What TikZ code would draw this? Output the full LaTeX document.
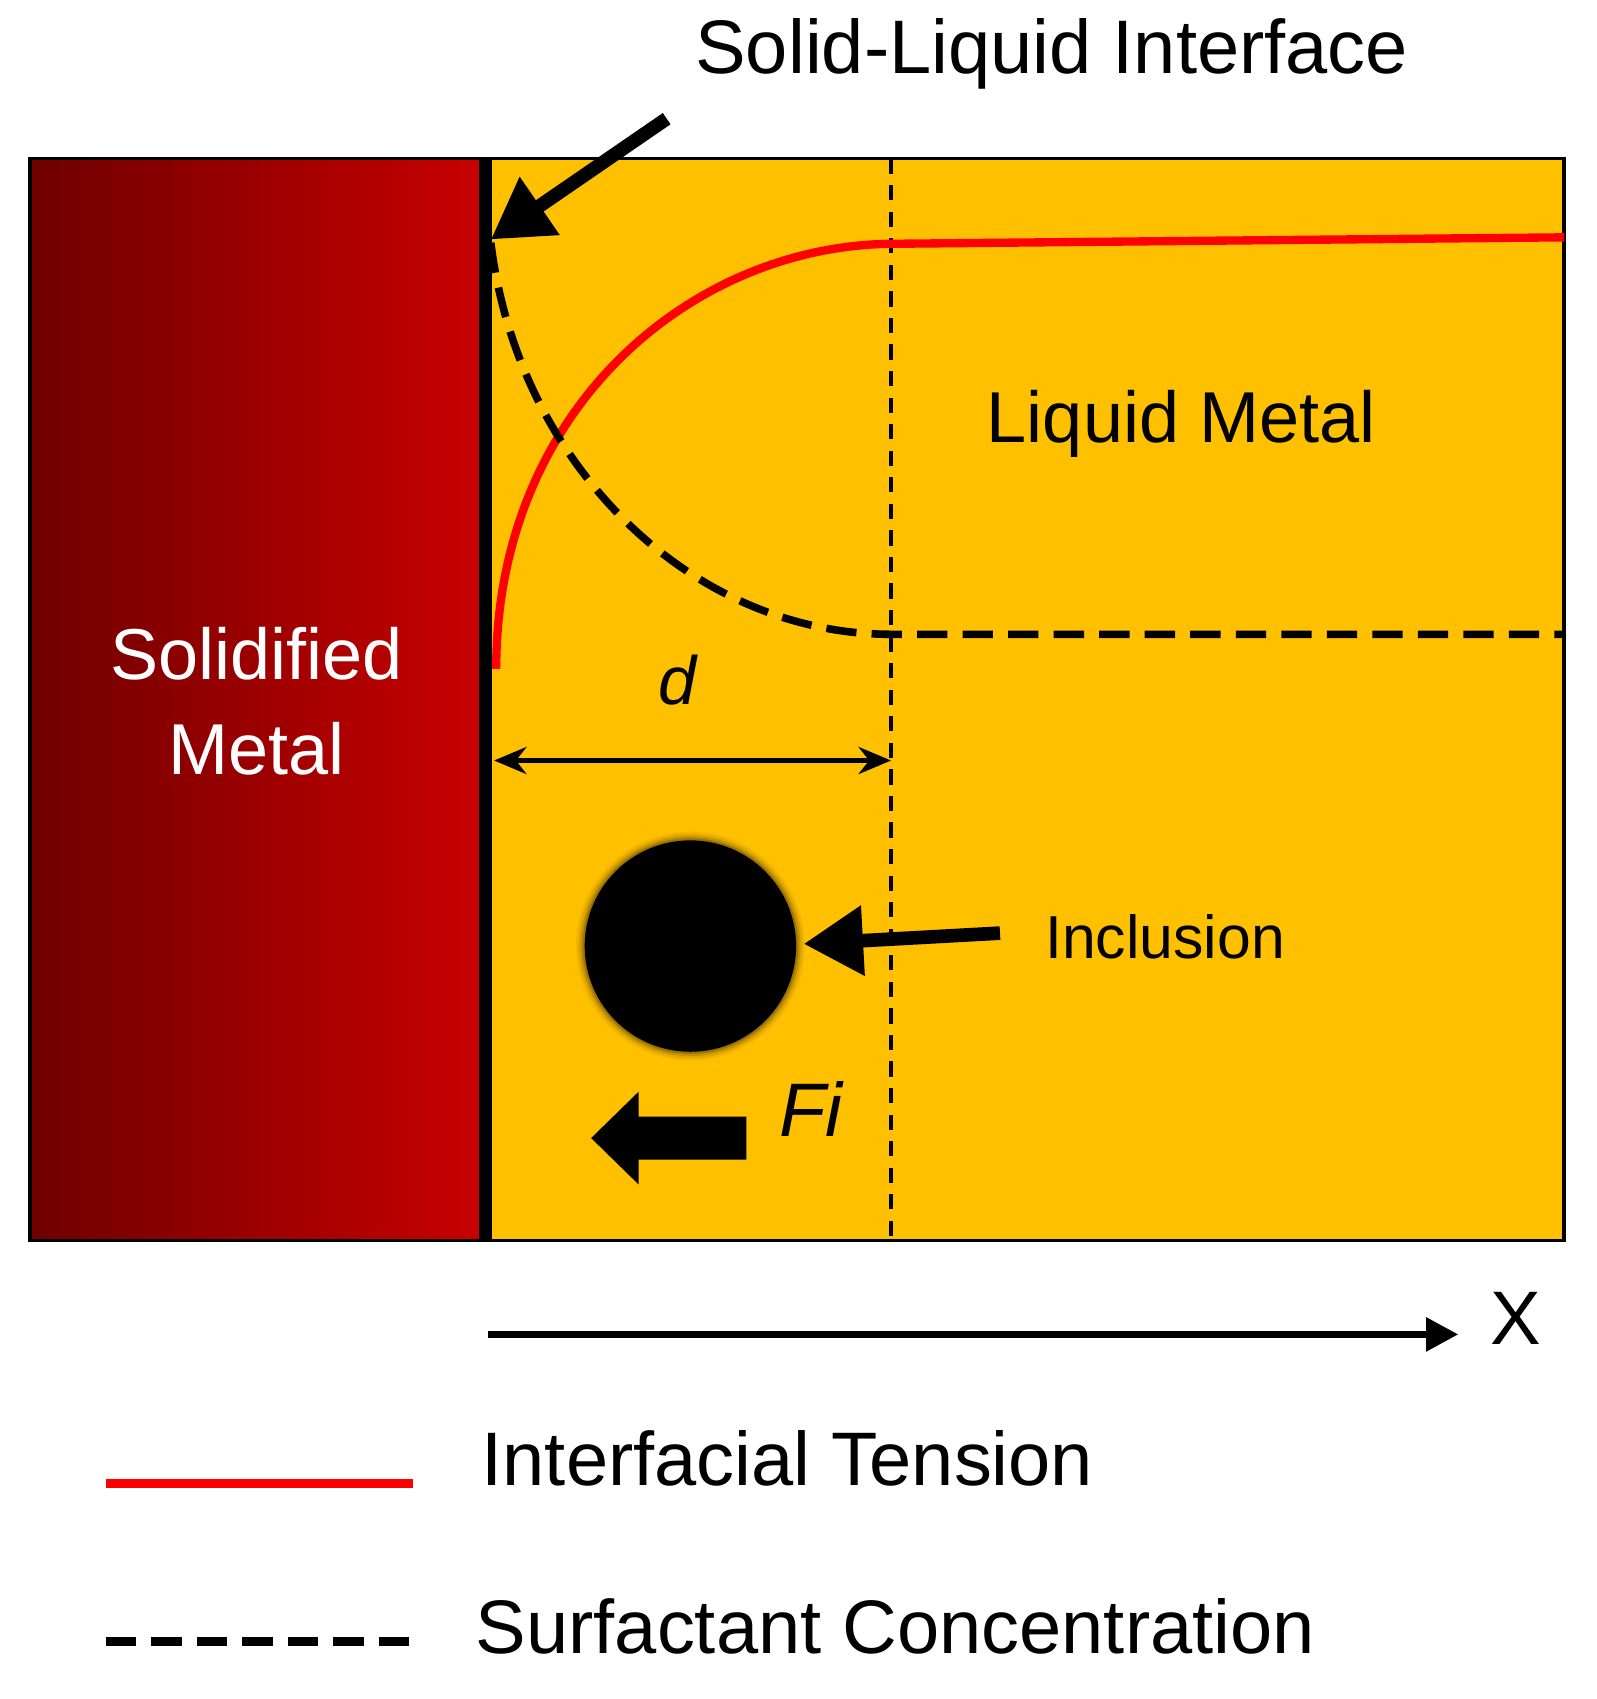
\documentclass[tikz,border=0pt]{standalone}
\usepackage{fontspec}
\setmainfont{Liberation Sans}
\usetikzlibrary{arrows.meta}
\definecolor{gold}{HTML}{FFC000}
\definecolor{dred}{HTML}{6E0000}
\definecolor{lred}{HTML}{C80000}
\begin{document}
\begin{tikzpicture}[x=0.01cm,y=-0.01cm,
  lbl/.style={font=\fontsize{20}{24}\selectfont},
  bigarrow/.style={line width=3.6pt,-{Triangle[length=0.55cm,width=0.62cm]}},
  mydash/.style={line width=2pt,dash pattern=on 8pt off 4pt}]
\useasboundingbox (0,0) rectangle (1480,1575);
% regions
\shade[left color=dred,right color=lred] (28,147) rectangle (445,1150);
\fill[gold] (445,147) rectangle (1450,1150);
\draw[line width=1pt] (28,147) rectangle (1450,1150);
\draw[line width=3.5pt] (450,147) -- (450,1150);
\coordinate (dtop) at (826,147); \coordinate (dbot) at (826,1150);
\draw[line width=1.2pt,dash pattern=on 4pt off 3pt] (dtop) -- (dbot);
% curves
\draw[red,line width=2.2pt] (460,620) .. controls (460,380) and (640,228) .. (826,226) -- (1450,220);
\draw[mydash] (455,225) .. controls (480,430) and (640,588) .. (826,588) -- (1450,588);
% texts
\node[lbl] (sli) at (975,50) {Solid-Liquid Interface};
\coordinate (slis) at (618,110); \coordinate (slie) at (455,222);
\draw[bigarrow] (slis) -- (slie);
\node[lbl,font=\fontsize{19}{23}\selectfont] (lm) at (1095,393) {Liquid Metal};
\node[lbl,font=\fontsize{19}{25}\selectfont,white,align=center] (sm) at (238,650) {Solidified\\Metal};
\node[font=\fontsize{18}{22}\selectfont\itshape] (d) at (628,630) {d};
\coordinate (da) at (458,705); \coordinate (db) at (826,705);
\draw[line width=1.3pt,{Stealth[length=0.3cm,width=0.25cm]}-{Stealth[length=0.3cm,width=0.25cm]}] (da) -- (db);
% inclusion
\foreach \r/\o in {106/0.05,104/0.08,102/0.12,100/0.2}{\fill[black,opacity=\o] (640,877) circle (\r);}
\fill[black] (640,877) circle (98) node (inc) {};
\node[font=\fontsize{16}{19}\selectfont] (inct) at (1080,868) {Inclusion};
\coordinate (ia) at (927,865); \coordinate (ib) at (745,875);
\draw[bigarrow] (ia) -- (ib);
\fill[black] (692,1035) -- (592,1035) -- (592,1012) -- (548,1055) -- (592,1098) -- (592,1075) -- (692,1075) -- cycle;
\node[font=\fontsize{20}{24}\selectfont\itshape] (fi) at (752,1028) {Fi};
% axis
\coordinate (xa) at (452,1237); \coordinate (xb) at (1352,1237);
\draw[line width=2pt,-{Triangle[length=0.3cm,width=0.3cm]}] (xa) -- (xb);
\node[lbl] (xl) at (1405,1222) {X};
% legend
\coordinate (l1a) at (98,1375); \coordinate (l1b) at (383,1375);
\draw[red,line width=2.4pt] (l1a) -- (l1b);
\node[lbl] (it) at (730,1352) {Interfacial Tension};
\coordinate (l2a) at (98,1522); \coordinate (l2b) at (383,1522);
\draw[line width=2.4pt,dash pattern=on 8pt off 4pt] (l2a) -- (l2b);
\node[lbl] (sc) at (830,1508) {Surfactant Concentration};
\end{tikzpicture}
\end{document}
